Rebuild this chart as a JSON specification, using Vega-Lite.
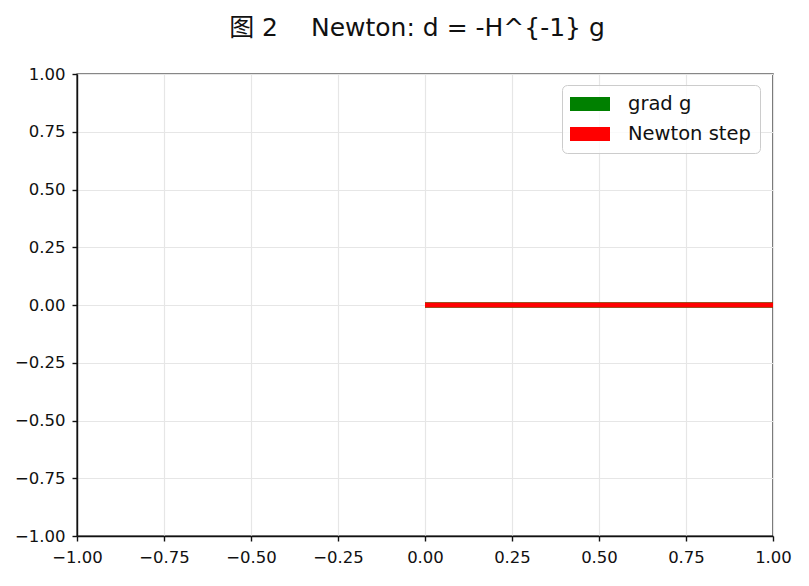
{
  "$schema": "https://vega.github.io/schema/vega-lite/v6.json",
  "width": 696,
  "height": 462,
  "autosize": {"type": "none"},
  "padding": {"left": 77, "top": 74, "right": 36, "bottom": 50},
  "background": "white",
  "title": {
    "text": "图 2\u3000 Newton: d = -H^{-1} g",
    "font": "DejaVu Sans, Noto Sans CJK SC",
    "fontSize": 25,
    "fontWeight": "normal",
    "color": "#111111",
    "anchor": "middle",
    "offset": 25,
    "dx": -8
  },
  "config": {
    "view": {"stroke": "#111111", "strokeWidth": 1.4},
    "font": "DejaVu Sans",
    "axis": {
      "domainColor": "#111111",
      "domainWidth": 1.4,
      "tickColor": "#111111",
      "tickWidth": 1.4,
      "tickSize": 5,
      "gridColor": "#e6e6e6",
      "gridWidth": 1.2,
      "labelFont": "DejaVu Sans",
      "labelFontSize": 16.5,
      "labelColor": "#111111",
      "labelPadding": 6,
      "title": null
    }
  },
  "data": {
    "values": [
      {"series": "grad g", "x0": 0, "y0": 0, "x1": 1, "y1": 0},
      {"series": "Newton step", "x0": 0, "y0": 0, "x1": 1, "y1": 0}
    ]
  },
  "encoding": {
    "x": {
      "field": "x0", "type": "quantitative",
      "scale": {"domain": [-1, 1], "nice": false, "zero": false},
      "axis": {"values": [-1, -0.75, -0.5, -0.25, 0, 0.25, 0.5, 0.75, 1], "format": ".2f", "labelFlush": false, "labelPadding": 8}
    },
    "x2": {"field": "x1"},
    "y": {
      "field": "y0", "type": "quantitative",
      "scale": {"domain": [-1, 1], "nice": false, "zero": false},
      "axis": {"values": [-1, -0.75, -0.5, -0.25, 0, 0.25, 0.5, 0.75, 1], "format": ".2f", "labelFlush": false, "labelPadding": 7}
    },
    "y2": {"field": "y1"},
    "color": {
      "field": "series", "type": "nominal",
      "scale": {"domain": ["grad g", "Newton step"], "range": ["#008000", "#ff0000"]},
      "legend": {
        "title": null,
        "orient": "none",
        "legendX": 485,
        "legendY": 11,
        "symbolType": "M-1.1,-0.7H2.9V0.7H-1.1Z",
        "symbolSize": 400,
        "symbolOpacity": 1,
        "labelFont": "DejaVu Sans",
        "labelFontSize": 19.5,
        "labelColor": "#111111",
        "labelOffset": 37,
        "rowPadding": 10,
        "padding": 9,
        "strokeColor": "#cccccc",
        "fillColor": "rgba(255,255,255,0.8)",
        "cornerRadius": 5,
        "encode": {"symbols": {"update": {"fill": {"scale": "color", "field": "value"}, "strokeWidth": {"value": 0}, "stroke": {"value": "transparent"}}}}
      }
    }
  },
  "layer": [
    {
      "transform": [{"filter": "datum.series === 'grad g'"}],
      "mark": {"type": "rule", "clip": true, "strokeCap": "butt", "strokeWidth": 5.6}
    },
    {
      "transform": [{"filter": "datum.series === 'Newton step'"}],
      "mark": {"type": "rule", "clip": true, "strokeCap": "butt", "strokeWidth": 5}
    }
  ]
}
